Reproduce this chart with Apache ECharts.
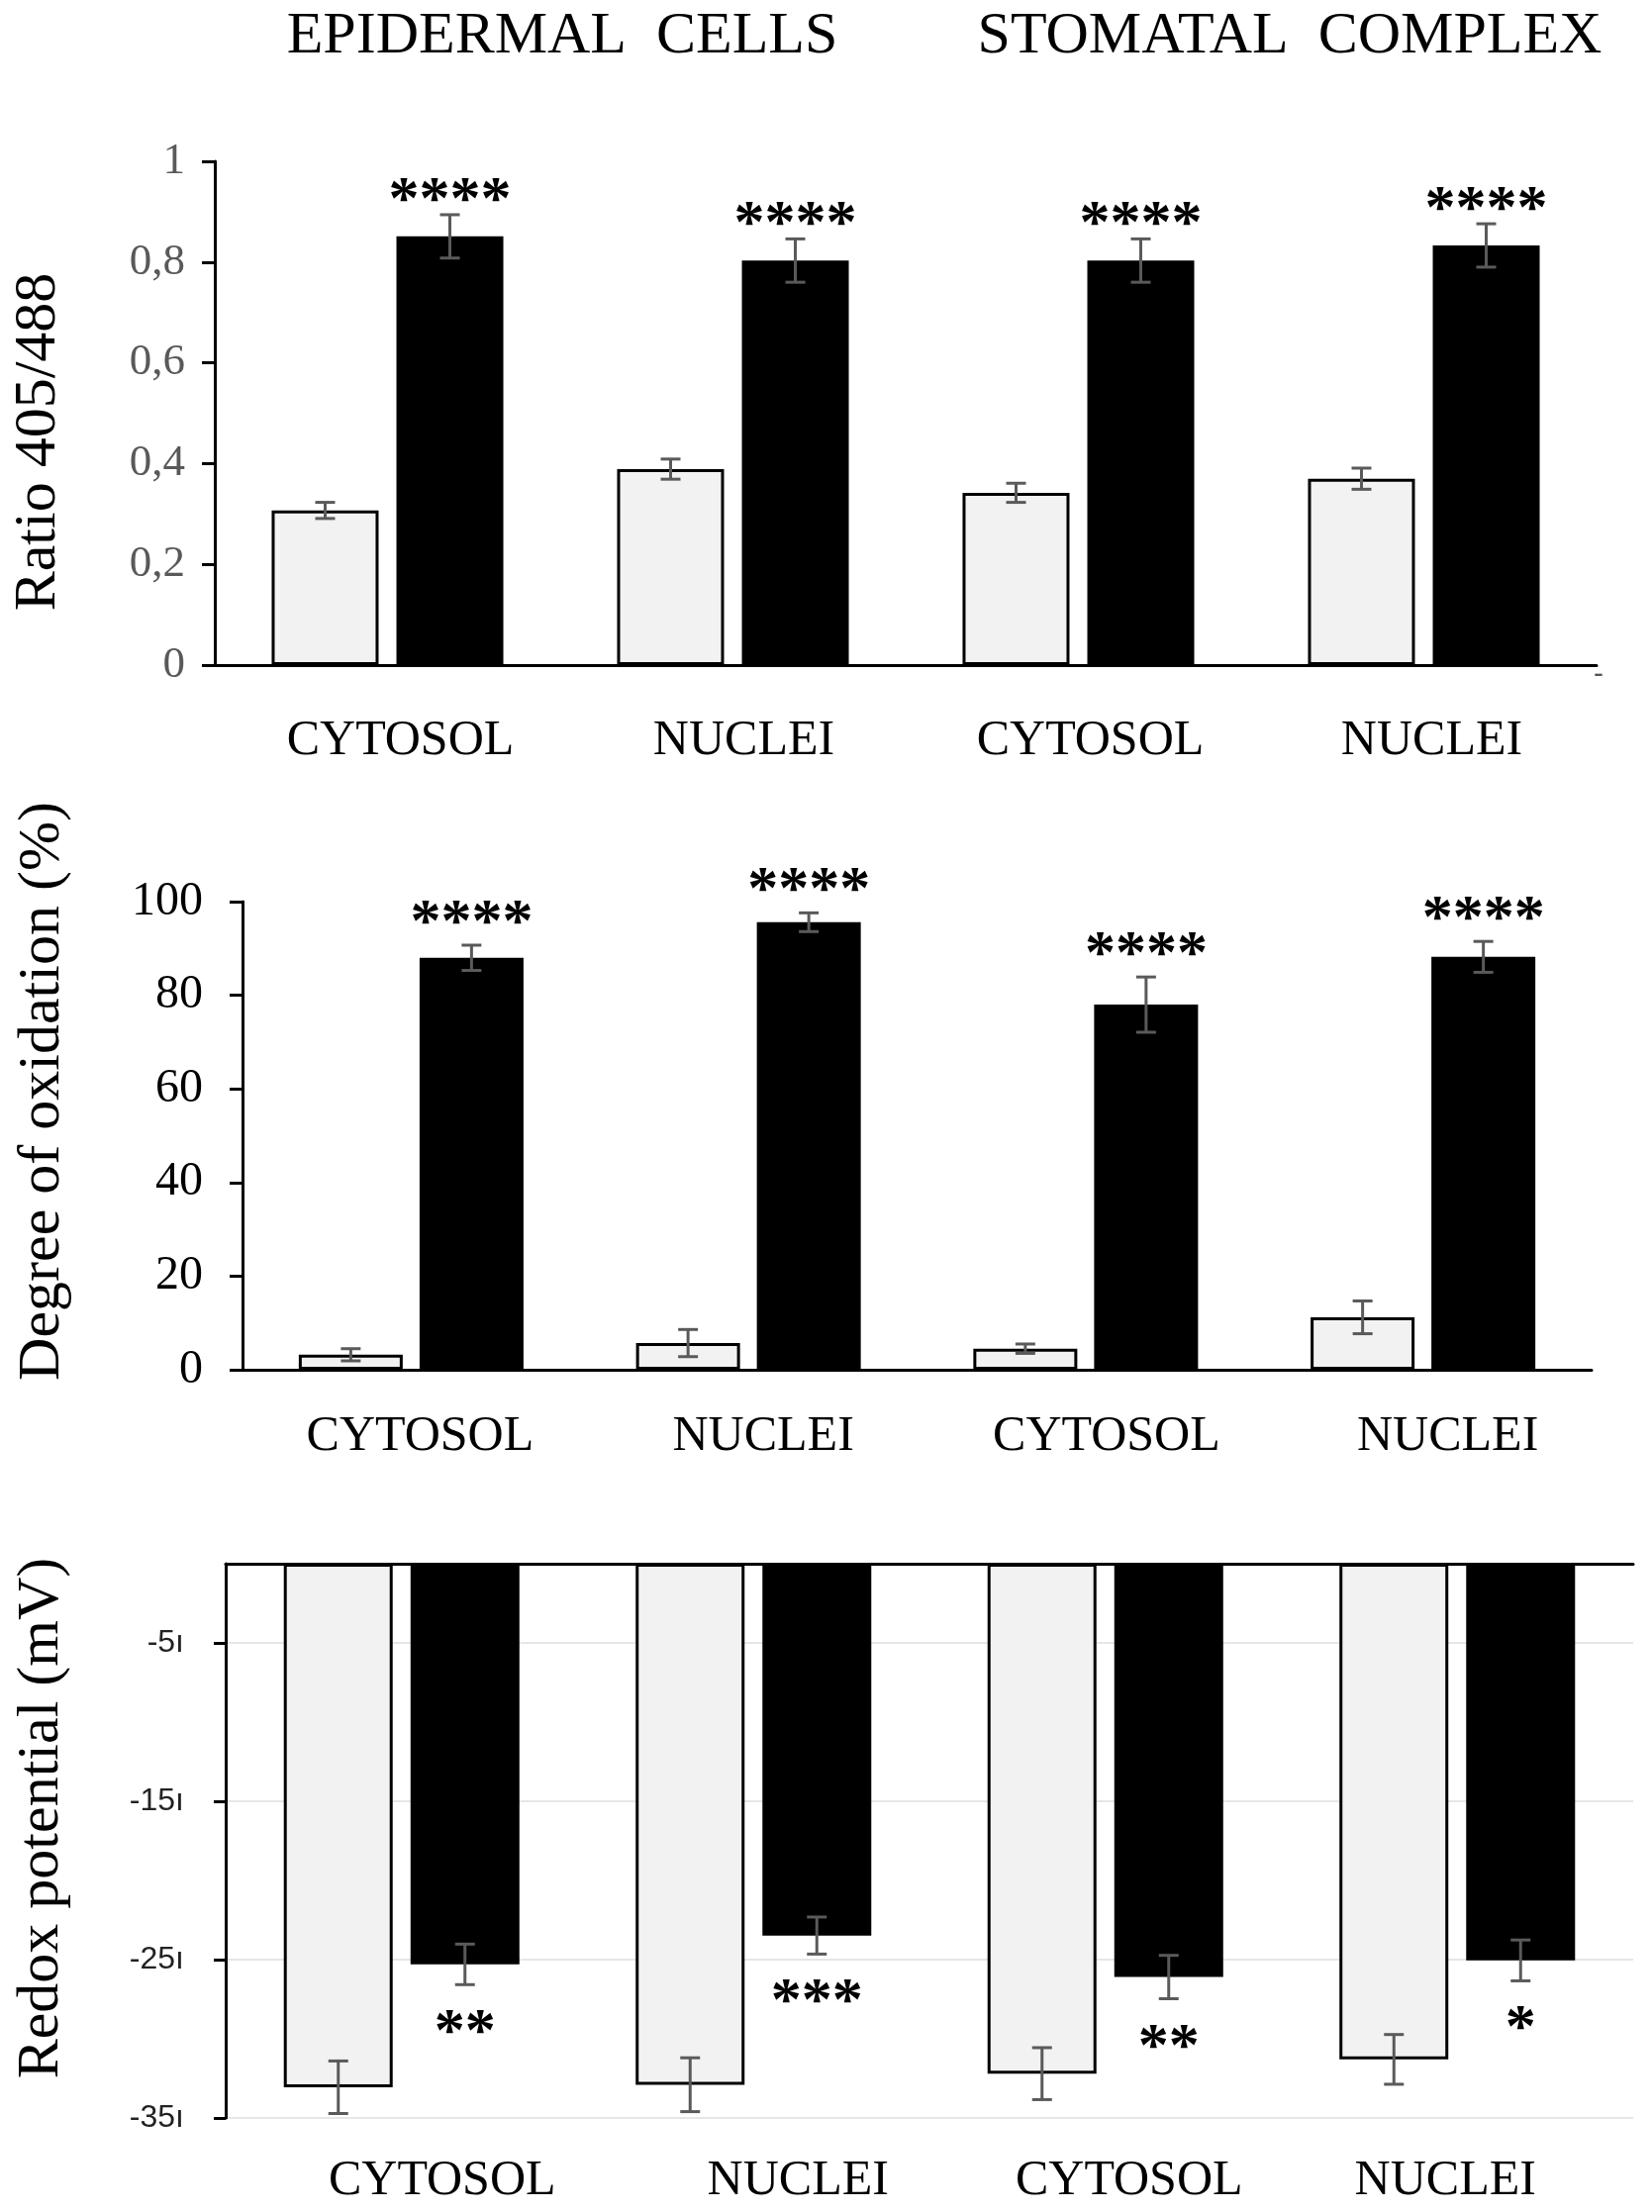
<!DOCTYPE html>
<html>
<head>
<meta charset="utf-8">
<script src="https://cdn.jsdelivr.net/npm/echarts@6/dist/echarts.min.js"></script>
<style>html,body{margin:0;padding:0;background:#fff}#c{width:1669px;height:2235px}</style>
</head>
<body>
<div id="c"></div>
<script>
// ---------- data ----------
const categories = ['CYTOSOL', 'NUCLEI', 'CYTOSOL', 'NUCLEI'];
const groupTitles = ['EPIDERMAL  CELLS', 'STOMATAL  COMPLEX'];

const ratioControl = [0.307, 0.389, 0.342, 0.370];
const ratioControlErr = [0.016, 0.020, 0.019, 0.021];
const ratioTreated = [0.851, 0.803, 0.803, 0.833];
const ratioTreatedErr = [0.043, 0.043, 0.043, 0.043];
const ratioStars = ['****', '****', '****', '****'];

const oxControl = [3.2, 5.7, 4.5, 11.2];
const oxControlErr = [1.3, 2.9, 1.0, 3.5];
const oxTreated = [88.0, 95.6, 78.0, 88.2];
const oxTreatedErr = [2.7, 2.0, 5.9, 3.3];
const oxStars = ['****', '****', '****', '****'];

const redoxControl = [-330.6, -329, -322, -313];
const redoxControlErr = [16.6, 17, 16.4, 15.7];
const redoxTreated = [-253, -234.8, -261, -250.5];
const redoxTreatedErr = [12.8, 11.7, 13.7, 12.9];
const redoxStars = ['**', '***', '**', '*'];
const redoxTicks = [-350, -250, -150, -50];

// ---------- helpers ----------
const SERIF = "'Liberation Serif', 'Times New Roman', serif";
const SANS = "'Liberation Sans', Arial, sans-serif";

function catRich(shifts, size) {
  const rich = {};
  shifts.forEach((s, i) => {
    rich['l' + i] = {
      fontFamily: SERIF, fontSize: size, color: '#000',
      padding: s >= 0 ? [0, 0, 0, 2 * s] : [0, -2 * s, 0, 0]
    };
  });
  return rich;
}

function catAxis(grid, margin, shifts, extra) {
  return Object.assign({
    type: 'category', gridIndex: grid, data: categories,
    axisLine: { show: true, onZero: true, lineStyle: { color: '#000', width: 3 } },
    axisTick: { show: false },
    axisLabel: {
      margin: margin,
      formatter: (v, i) => '{l' + i + '|' + v + '}',
      rich: catRich(shifts, 50)
    },
    splitLine: { show: false }
  }, extra || {});
}

function barPair(xi, yi, ctrl, trt, bw, gap) {
  const common = { type: 'bar', xAxisIndex: xi, yAxisIndex: yi, barWidth: bw,
    barGap: (gap / bw * 100).toFixed(1) + '%', z: 2 };
  return [
    Object.assign({}, common, { data: ctrl,
      itemStyle: { color: '#f2f2f2', borderColor: '#000', borderWidth: 3 } }),
    Object.assign({}, common, { data: trt,
      itemStyle: { color: '#000', borderColor: '#000', borderWidth: 2 } })
  ];
}

function errSeries(xi, yi, means, errs, stars, dir, off, starGap) {
  return {
    type: 'custom', xAxisIndex: xi, yAxisIndex: yi, z: 6,
    data: means.map((m, i) => [i, m, errs[i]]),
    encode: { x: 0, y: 1 },
    renderItem: function (params, api) {
      const i = api.value(0), m = api.value(1), e = api.value(2);
      const x = api.coord([i, m])[0] + off;
      const yHi = api.coord([i, m + e])[1];
      const yLo = api.coord([i, m - e])[1];
      const cw = 10;
      const st = { stroke: '#5a5a5a', lineWidth: 3 };
      const children = [
        { type: 'line', shape: { x1: x, y1: yHi, x2: x, y2: yLo }, style: st },
        { type: 'line', shape: { x1: x - cw, y1: yHi, x2: x + cw, y2: yHi }, style: st },
        { type: 'line', shape: { x1: x - cw, y1: yLo, x2: x + cw, y2: yLo }, style: st }
      ];
      const s = stars ? stars[params.dataIndex] : '';
      if (s) {
        children.push({
          type: 'text',
          style: {
            text: s, x: x, y: dir > 0 ? yHi - starGap : yLo + starGap,
            align: 'center', verticalAlign: 'middle',
            textAlign: 'center', textVerticalAlign: 'middle',
            fontSize: 62, fontWeight: 'bold', fontFamily: SERIF, fill: '#000'
          }
        });
      }
      return { type: 'group', children: children };
    }
  };
}

// bar geometry per panel
const G = [
  { bw: 108, gap: 18 },
  { bw: 105, gap: 17 },
  { bw: 110, gap: 18 }
];

const chart = echarts.init(document.getElementById('c'), null, { renderer: 'canvas' });

const option = {
  backgroundColor: '#fff',
  animation: false,
  graphic: [
    { type: 'text', x: 568, y: 37, style: { text: groupTitles[0], fontSize: 60, fontFamily: SERIF, fill: '#000',
      align: 'center', verticalAlign: 'middle', textAlign: 'center', textVerticalAlign: 'middle' } },
    { type: 'text', x: 1303, y: 37, style: { text: groupTitles[1], fontSize: 60, fontFamily: SERIF, fill: '#000',
      align: 'center', verticalAlign: 'middle', textAlign: 'center', textVerticalAlign: 'middle' } },
    { type: 'text', x: 1615, y: 682, style: { text: '-', fontSize: 30, fontFamily: SANS, fill: '#555',
      align: 'center', verticalAlign: 'middle', textAlign: 'center', textVerticalAlign: 'middle' } }
  ],
  grid: [
    { left: 217, right: 56, top: 163, bottom: 2235 - 672 },
    { left: 245, right: 61, top: 911, bottom: 2235 - 1384 },
    { left: 228, right: 19, top: 1580, bottom: 2235 - 2140 }
  ],
  xAxis: [
    catAxis(0, 52, [13, 11, 12, 8]),
    catAxis(1, 43, [9, 15, 21, 25]),
    catAxis(2, 0, [0, 0, 0, 0], { position: 'top', axisLabel: { show: false },
      axisLine: { show: true, onZero: false, lineStyle: { color: '#000', width: 3 } } }),
    catAxis(2, 39, [41, 45, 24, -12], { position: 'bottom',
      axisLine: { show: false, onZero: false } })
  ],
  yAxis: [
    {
      type: 'value', gridIndex: 0, min: 0, max: 1, interval: 0.2,
      axisLine: { show: true, lineStyle: { color: '#000', width: 3 } },
      axisTick: { show: true, length: 13, lineStyle: { color: '#000', width: 3 } },
      axisLabel: { margin: 30, color: '#595959', fontFamily: SERIF, fontSize: 45,
        formatter: v => (Math.round(v * 10) / 10).toString().replace('.', ',') },
      splitLine: { show: false },
      name: 'Ratio 405/488', nameLocation: 'middle', nameGap: 148,
      nameTextStyle: { fontFamily: SERIF, fontSize: 60, color: '#000', padding: [0, 58, 0, 0] }
    },
    {
      type: 'value', gridIndex: 1, min: 0, max: 100, interval: 20,
      axisLine: { show: true, lineStyle: { color: '#000', width: 3 } },
      axisTick: { show: true, length: 13, lineStyle: { color: '#000', width: 3 } },
      axisLabel: { margin: 40, color: '#000', fontFamily: SERIF, fontSize: 48 },
      splitLine: { show: false },
      name: 'Degree of oxidation (%)', nameLocation: 'middle', nameGap: 172,
      nameTextStyle: { fontFamily: SERIF, fontSize: 60, color: '#000', padding: [0, 0, 0, 90] }
    },
    {
      type: 'value', gridIndex: 2, min: -350, max: 0,
      axisLine: { show: true, lineStyle: { color: '#000', width: 3 } },
      axisTick: { show: true, length: 12, customValues: redoxTicks, lineStyle: { color: '#000', width: 3 } },
      axisLabel: { margin: 42, color: '#222', fontFamily: SANS, fontSize: 32, customValues: redoxTicks,
        formatter: v => String(v).slice(0, -1) + 'ı' },
      splitLine: { show: true, lineStyle: { color: '#e6e6e6', width: 2 } },
      name: 'Redox potential (mV)', nameLocation: 'middle', nameGap: 156,
      nameTextStyle: { fontFamily: SERIF, fontSize: 60, color: '#000', padding: [0, 0, 0, 46] }
    }
  ],
  series: [].concat(
    barPair(0, 0, ratioControl, ratioTreated, G[0].bw, G[0].gap),
    barPair(1, 1, oxControl, oxTreated, G[1].bw, G[1].gap),
    barPair(2, 2, redoxControl, redoxTreated, G[2].bw, G[2].gap),
    [
      errSeries(0, 0, ratioControl, ratioControlErr, null, 1, -(G[0].bw + G[0].gap) / 2, 0),
      errSeries(0, 0, ratioTreated, ratioTreatedErr, ratioStars, 1, (G[0].bw + G[0].gap) / 2, 13),
      errSeries(1, 1, oxControl, oxControlErr, null, 1, -(G[1].bw + G[1].gap) / 2, 0),
      errSeries(1, 1, oxTreated, oxTreatedErr, oxStars, 1, (G[1].bw + G[1].gap) / 2, 21),
      errSeries(2, 2, redoxControl, redoxControlErr, null, -1, -(G[2].bw + G[2].gap) / 2, 0),
      errSeries(2, 2, redoxTreated, redoxTreatedErr, redoxStars, -1, (G[2].bw + G[2].gap) / 2, 50)
    ]
  )
};
chart.setOption(option);
</script>
</body>
</html>
